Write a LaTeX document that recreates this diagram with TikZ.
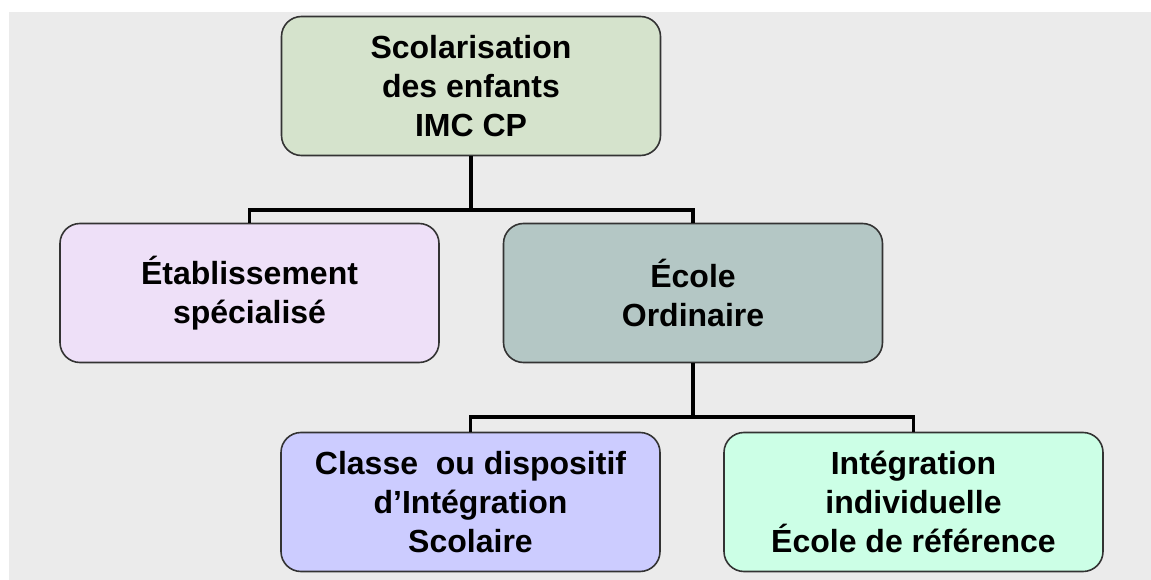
\documentclass[tikz,border=0pt]{standalone}
\usepackage{fontspec}
\setmainfont{Liberation Sans}
\begin{document}
\begin{tikzpicture}[x=1pt,y=-1pt,
  box/.style={draw=black!80, line width=1.6pt, rounded corners=20pt,
    minimum width=379pt, minimum height=139pt, align=center,
    font=\bfseries\fontsize{32}{39}\selectfont, inner sep=0pt},
  conn/.style={draw=black, line width=3.4pt}]
  % page and textured backdrop
  \useasboundingbox (0,0) rectangle (1151,580);
  \fill[white] (0,0) rectangle (1151,580);
  \fill[black!8] (9,12) rectangle (1151,580);

  % boxes
  \node[box, fill={rgb,255:red,213;green,227;blue,204}] (top) at (471,86)
    {Scolarisation\\des enfants\\IMC CP};
  \node[box, fill={rgb,255:red,238;green,224;blue,248}] (spec) at (249.5,293)
    {Établissement\\spécialisé};
  \node[box, fill={rgb,255:red,180;green,199;blue,197}] (ord) at (693,293)
    {École\\Ordinaire};
  \node[box, fill={rgb,255:red,204;green,204;blue,255}] (clis) at (470.5,502)
    {Classe\ \ ou dispositif\\d’Intégration\\Scolaire};
  \node[box, fill={rgb,255:red,204;green,255;blue,230}] (indiv) at (913.5,502)
    {Intégration\\individuelle\\École de référence};

  % tree connectors
  \coordinate (j1) at (471,210);
  \coordinate (j2) at (693,417);
  \draw[conn] (top.south) -- (j1);
  \draw[conn] (spec.north) |- (j1) -| (ord.north);
  \draw[conn] (ord.south) -- (j2);
  \draw[conn] (clis.north) |- (j2) -| (indiv.north);
\end{tikzpicture}
\end{document}
